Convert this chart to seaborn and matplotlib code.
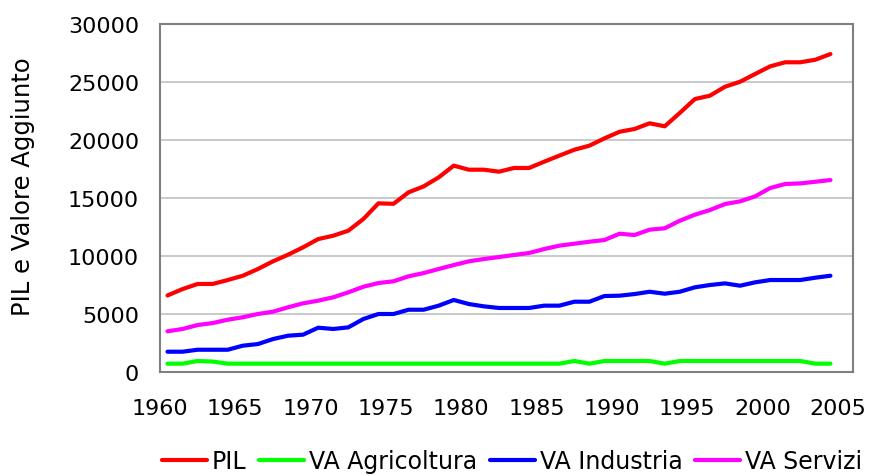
import numpy as np
import pandas as pd
import matplotlib
matplotlib.use("Agg")
import matplotlib.pyplot as plt
import seaborn as sns

# dati
anni = list(range(1960, 2005))

pil = [6600, 7150, 7590, 7590, 7930, 8300, 8880, 9540, 10110, 10750,
       11460, 11750, 12180, 13190, 14540, 14500, 15490, 16000, 16780, 17790,
       17440, 17440, 17270, 17590, 17590, 18130, 18650, 19160, 19510, 20140,
       20710, 20950, 21440, 21180, 22330, 23530, 23820, 24590, 25020, 25690,
       26350, 26700, 26700, 26920, 27410]

va_agricoltura = [720, 720, 950, 900, 720, 720, 720, 720, 720, 720,
                  720, 720, 720, 720, 720, 720, 720, 720, 720, 720,
                  720, 720, 720, 720, 720, 720, 720, 950, 720, 950,
                  950, 950, 950, 720, 950, 950, 950, 950, 950, 950,
                  950, 950, 950, 720, 720]

va_industria = [1750, 1750, 1920, 1920, 1920, 2270, 2410, 2840, 3130, 3220,
                3820, 3710, 3850, 4570, 5000, 5000, 5370, 5370, 5720, 6210,
                5860, 5660, 5520, 5520, 5520, 5720, 5720, 6060, 6060, 6550,
                6580, 6720, 6920, 6750, 6920, 7300, 7500, 7640, 7440, 7730,
                7930, 7930, 7930, 8130, 8300]

va_servizi = [3510, 3710, 4050, 4220, 4510, 4720, 5000, 5200, 5580, 5920,
              6150, 6440, 6870, 7350, 7670, 7820, 8250, 8530, 8880, 9220,
              9540, 9740, 9910, 10090, 10260, 10600, 10890, 11060, 11230, 11380,
              11920, 11810, 12270, 12390, 13040, 13560, 13960, 14480, 14710, 15140,
              15860, 16210, 16260, 16400, 16550]

serie = ["PIL", "VA Agricoltura", "VA Industria", "VA Servizi"]
colori = ["#ff0000", "#00ff00", "#0000ff", "#ff00ff"]
anni_etichette = list(range(1960, 2010, 5))

df = pd.DataFrame({"anno": anni, "PIL": pil, "VA Agricoltura": va_agricoltura,
                   "VA Industria": va_industria, "VA Servizi": va_servizi})
df = df.melt(id_vars="anno", var_name="serie", value_name="valore")

sns.set_style("white")
plt.rcParams["font.family"] = ["DejaVu Sans"]
plt.rcParams["text.color"] = "black"

fig = plt.figure(figsize=(8.76, 4.77), dpi=100)
ax = fig.add_axes([0.1826, 0.218, 0.7912, 0.7296])

sns.lineplot(data=df, x="anno", y="valore", hue="serie", hue_order=serie,
             palette=colori, linewidth=3, ax=ax)

ax.set_xlim(1959.5, 2005.5)
ax.set_ylim(0, 30000)
ax.set_yticks(range(0, 30001, 5000))
ax.set_xticks([a - 0.5 for a in anni_etichette])
ax.set_xticklabels([str(a) for a in anni_etichette])
ax.yaxis.grid(True, color="#c0c0c0", linewidth=1.2)
ax.set_axisbelow(True)
for s in ax.spines.values():
    s.set_color("#808080")
    s.set_linewidth(1.5)
ax.tick_params(axis="both", direction="out", length=5, width=1.2,
               color="#808080", labelcolor="black", labelsize=16)
ax.tick_params(axis="y", pad=10)
ax.tick_params(axis="x", pad=14)
ax.set_xlabel("")
ax.set_ylabel("PIL e Valore Aggiunto", fontsize=17.5, color="black")
ax.yaxis.set_label_coords(-0.18, 0.534)

ax.legend(loc="center", bbox_to_anchor=(0.508, -0.256), ncol=4, frameon=False,
          fontsize=17, handlelength=1.9, handletextpad=0.2, columnspacing=0.55)

fig.savefig("out.png", dpi=100)
